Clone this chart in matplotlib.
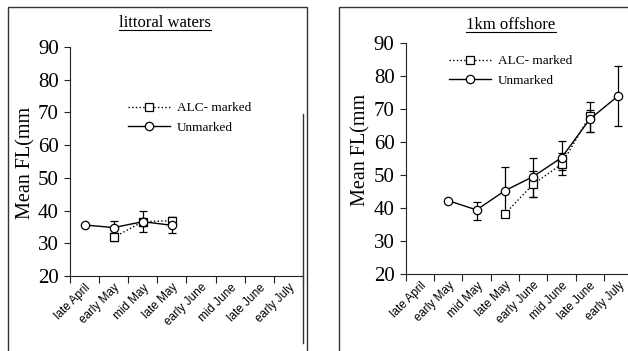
import matplotlib
matplotlib.use("Agg")
import matplotlib.pyplot as plt
from matplotlib.patches import Rectangle
from matplotlib.lines import Line2D
import numpy as np

periods = ["late April", "early May", "mid May", "late May",
           "early June", "mid June", "late June", "early July"]

# littoral waters
lit_unm_idx = [0, 1, 2, 3]
lit_unm = [35.6, 34.8, 36.6, 35.5]
lit_unm_lo = [35.6, 33.0, 33.3, 33.0]
lit_unm_hi = [35.6, 36.9, 39.9, 38.1]
lit_alc_idx = [1, 2, 3]
lit_alc = [31.8, 36.6, 36.9]
lit_alc_lo = [30.8, 35.4, 35.9]
lit_alc_hi = [33.0, 37.8, 37.9]

# 1km offshore
off_unm_idx = [1, 2, 3, 4, 5, 6, 7]
off_unm = [42.2, 39.4, 45.2, 49.5, 55.2, 66.9, 73.9]
off_unm_lo = [42.2, 36.3, 38.4, 43.2, 51.5, 63.1, 64.8]
off_unm_hi = [42.2, 41.7, 52.3, 55.2, 60.3, 72.1, 82.9]
off_alc_idx = [3, 4, 5, 6]
off_alc = [38.2, 47.2, 53.2, 67.9]
off_alc_lo = [37.2, 43.2, 50.0, 63.1]
off_alc_hi = [39.2, 51.2, 56.5, 69.6]

plt.rcParams['font.family'] = ['Liberation Serif', 'DejaVu Serif']

W, H = 628, 351
fig = plt.figure(figsize=(W / 100, H / 100), dpi=100)


def fx(px):
    return px / W


def fy(py):
    return 1 - py / H


def panel(rect, title, title_xy, ylab_xy, leg_xy, data):
    ax = fig.add_axes(rect)
    x = np.arange(len(periods)) + 0.5
    (ui, u, ulo, uhi), (ai, a, alo, ahi) = data
    ui = np.array(ui); u = np.array(u)
    ai = np.array(ai); a = np.array(a)
    ax.errorbar(x[ai], a, yerr=[a - np.array(alo), np.array(ahi) - a],
                fmt='none', ecolor='black', elinewidth=0.9, capsize=3,
                capthick=0.9, zorder=2)
    ax.plot(x[ai], a, 's', ls=':', color='black', mfc='white', mec='black',
            ms=5.5, mew=0.9, lw=1.0, label='ALC- marked', zorder=3)
    ax.errorbar(x[ui], u, yerr=[u - np.array(ulo), np.array(uhi) - u],
                fmt='none', ecolor='black', elinewidth=0.9, capsize=3,
                capthick=0.9, zorder=2)
    ax.plot(x[ui], u, 'o', ls='-', color='black', mfc='white', mec='black',
            ms=6, mew=0.9, lw=1.0, label='Unmarked', zorder=4)
    ax.set_xlim(0, len(periods))
    ax.set_ylim(20, 90)
    ax.set_yticks(range(20, 91, 10))
    ax.set_xticks(np.arange(len(periods) + 1))
    ax.set_xticklabels([])
    ax.set_xticks(x, minor=True)
    ax.set_xticklabels(periods, minor=True, rotation=45, ha='right',
                       rotation_mode='anchor', fontsize=8.5,
                       family='Liberation Sans')
    ax.tick_params(axis='x', which='minor', length=0, pad=4)
    ax.tick_params(axis='x', which='major', length=5, direction='out',
                   width=0.8, color='#222222')
    ax.tick_params(axis='y', length=4, width=0.8, labelsize=15,
                   color='#222222', pad=4)
    for s in ['top', 'right']:
        ax.spines[s].set_visible(False)
    for s in ['left', 'bottom']:
        ax.spines[s].set_color('#222222')
        ax.spines[s].set_linewidth(0.8)
    ax.patch.set_visible(False)
    fig.text(fx(title_xy[0]), fy(title_xy[1]), title, ha='center',
             va='center', fontsize=12)
    fig.text(fx(ylab_xy[0]), fy(ylab_xy[1]), 'Mean FL(mm', ha='center',
             va='center', rotation=90, fontsize=14.5)
    ax.legend(loc='upper left', bbox_to_anchor=(fx(leg_xy[0]), fy(leg_xy[1])),
              bbox_transform=fig.transFigure, frameon=False, fontsize=9.5,
              handlelength=3.2, handletextpad=0.5, borderpad=0,
              labelspacing=0.55, borderaxespad=0)
    return ax


ax1 = panel([fx(70), fy(276), fx(303) - fx(70), fy(47) - fy(276)],
            'littoral waters', (165, 23), (26, 163), (128, 102),
            ((lit_unm_idx, lit_unm, lit_unm_lo, lit_unm_hi),
             (lit_alc_idx, lit_alc, lit_alc_lo, lit_alc_hi)))
ax2 = panel([fx(405.7), fy(274), fx(226.7), fy(42.7) - fy(274)],
            '1km offshore', (511, 25), (361, 150), (449, 55),
            ((off_unm_idx, off_unm, off_unm_lo, off_unm_hi),
             (off_alc_idx, off_alc, off_alc_lo, off_alc_hi)))

# panel frames
fig.add_artist(Rectangle((fx(8), fy(400)), fx(299), fy(7) - fy(400),
                         transform=fig.transFigure, fill=False,
                         ec='#333333', lw=1.0))
fig.add_artist(Rectangle((fx(339), fy(400)), fx(320), fy(7) - fy(400),
                         transform=fig.transFigure, fill=False,
                         ec='#333333', lw=1.0))
fig.add_artist(Line2D([fx(303), fx(303)], [fy(114), fy(343)],
                      transform=fig.transFigure, color='#333333', lw=1.0))

# underline titles
fig.canvas.draw()
r = fig.canvas.get_renderer()
for t in fig.texts:
    if t.get_text() in ('littoral waters', '1km offshore'):
        bb = t.get_window_extent(r)
        y = (bb.y0 + 1) / (H)
        fig.add_artist(Line2D([bb.x0 / W, bb.x1 / W], [y, y],
                              transform=fig.transFigure, color='black',
                              lw=0.8))

fig.savefig('out.png', dpi=100)
